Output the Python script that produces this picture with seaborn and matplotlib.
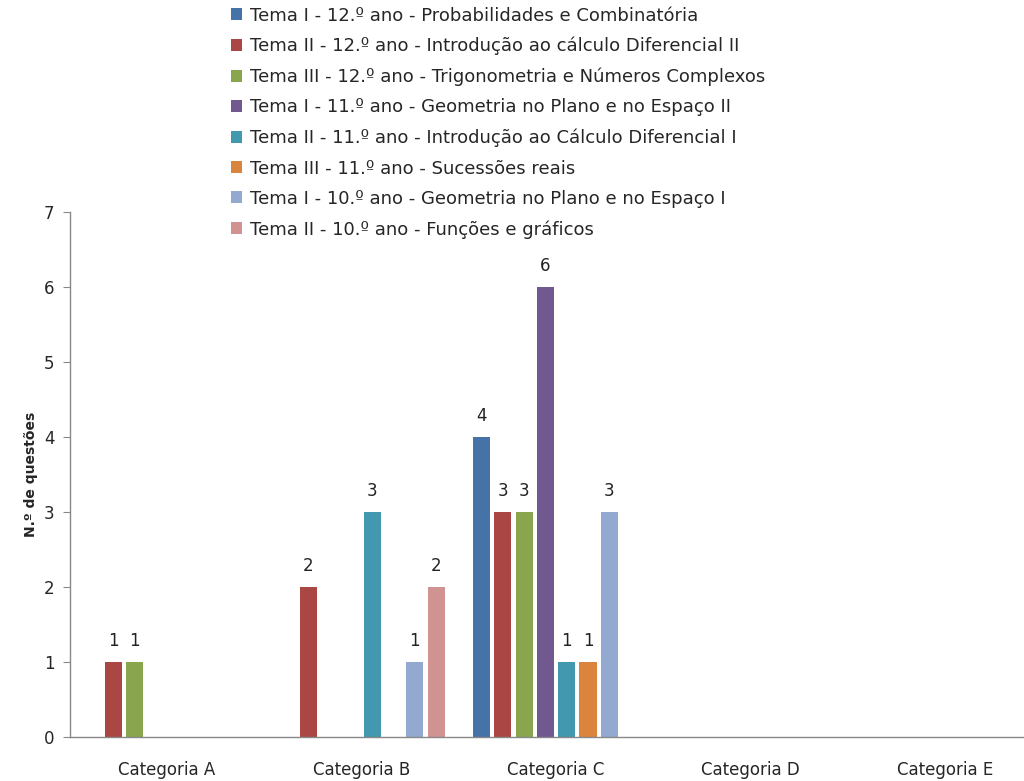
import matplotlib
matplotlib.use("Agg")
import matplotlib.pyplot as plt
import seaborn as sns
import pandas as pd

categorias = ["Categoria A", "Categoria B", "Categoria C", "Categoria D", "Categoria E"]
temas = [
    "Tema I - 12.º ano - Probabilidades e Combinatória",
    "Tema II - 12.º ano - Introdução ao cálculo Diferencial II",
    "Tema III - 12.º ano - Trigonometria e Números Complexos",
    "Tema I - 11.º ano - Geometria no Plano e no Espaço II",
    "Tema II - 11.º ano - Introdução ao Cálculo Diferencial I",
    "Tema III - 11.º ano - Sucessões reais",
    "Tema I - 10.º ano - Geometria no Plano e no Espaço I",
    "Tema II - 10.º ano - Funções e gráficos",
]
# one list per tema, values for Categoria A..E
t1 = [0, 0, 4, 0, 0]
t2 = [1, 2, 3, 0, 0]
t3 = [1, 0, 3, 0, 0]
t4 = [0, 0, 6, 0, 0]
t5 = [0, 3, 1, 0, 0]
t6 = [0, 0, 1, 0, 0]
t7 = [0, 1, 3, 0, 0]
t8 = [0, 2, 0, 0, 0]
cores = ["#4572A7", "#AA4643", "#89A54E", "#71588F",
         "#4198AF", "#DB843D", "#93A9CF", "#D19392"]

rows = []
for tema, vals in zip(temas, [t1, t2, t3, t4, t5, t6, t7, t8]):
    for cat, v in zip(categorias, vals):
        rows.append({"Categoria": cat, "Tema": tema, "n": v})
df = pd.DataFrame(rows)

sns.set_style("white")
fig = plt.figure(figsize=(10.24, 7.81), dpi=100)
ax = fig.add_axes([0.068, 0.0563, 0.95, 0.6722])

sns.barplot(data=df, x="Categoria", y="n", hue="Tema", hue_order=temas,
            palette=cores, saturation=1, width=0.877, gap=0.2, linewidth=0,
            ax=ax, legend=True)

for cont in ax.containers:
    labs = [str(int(b.get_height())) if b.get_height() > 0 else "" for b in cont]
    ax.bar_label(cont, labels=labs, padding=9, fontsize=12, color="#222222")

ax.set_ylim(0, 7)
ax.set_xlim(-0.5, 4.5)
ax.set_yticks(range(8))
ax.set_xlabel("")
ax.set_ylabel("N.º de questões", fontsize=10, fontweight="bold", labelpad=4)
ax.tick_params(axis="y", left=True, length=5, color="#888888", labelsize=12, pad=6)
ax.tick_params(axis="x", bottom=False, labelsize=12, pad=14)
sns.despine(ax=ax, top=True, right=True)
for s in ["left", "bottom"]:
    ax.spines[s].set_color("#888888")
    ax.spines[s].set_linewidth(1)

ax.legend(loc="upper left", bbox_to_anchor=(0.158, 1.405), frameon=False,
          fontsize=13, handlelength=0.65, handleheight=0.65, handletextpad=0.4,
          labelspacing=0.68, borderaxespad=0)

fig.savefig("out.png", dpi=100)
